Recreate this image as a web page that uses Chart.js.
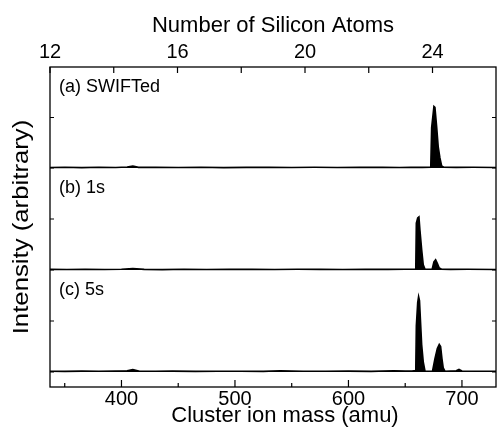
<!DOCTYPE html>
<html>
<head>
<meta charset="utf-8">
<script src="https://cdn.jsdelivr.net/npm/chart.js@4.4.1/dist/chart.umd.min.js"></script>
<style>
    html, body { margin: 0; padding: 0; background: #fff; }
    #wrap { width: 497px; height: 434px; }
</style>
</head>
<body>
<div id="wrap"><canvas id="spectra" width="497" height="434"></canvas></div>
<script>
// Data
const SI_MASS = 28.0855;
const massMin = 12 * SI_MASS;
const massMax = 730;

const massTicks = [350, 400, 450, 500, 550, 600, 650, 700];
const atomTicks = [12, 14, 16, 18, 20, 22, 24];
const intensityTicks = [0, 0.5];

const panelIds = ["ya", "yb", "yc"];
const panelLabels = ["(a) SWIFTed", "(b) 1s", "(c) 5s"];

const xTitle = "Cluster ion mass (amu)";
const yTitle = "Intensity (arbitrary)";

// (a) SWIFTed
const massA = [337, 350, 365, 380, 395, 405, 410, 415, 430, 450,
    470, 490, 510, 530, 550, 570, 590, 610, 630, 645,
    655, 665, 672.5, 673.3, 675.3, 676.2, 677.7, 679.1, 680.6, 682.1,
    684, 695, 710, 730];
const intensityA = [0.005, 0.008, 0.004, 0.007, 0.005, 0.01, 0.02, 0.006, 0.008, 0.005,
    0.007, 0.004, 0.006, 0.008, 0.005, 0.007, 0.005, 0.008, 0.006, 0.005,
    0.007, 0.006, 0.008, 0.40, 0.61, 0.60, 0.41, 0.21, 0.10, 0.02,
    0.008, 0.006, 0.007, 0.005];

// (b) 1s
const massB = [337, 352, 368, 385, 400, 410, 420, 436, 455, 475,
    495, 515, 535, 555, 575, 595, 615, 635, 650, 657,
    659.3, 659.8, 661.0, 662.1, 663.0, 664.5, 665.9, 667.4, 669, 672,
    673.8, 675.3, 676.8, 678.3, 680.0, 682.1, 690, 705, 730];
const intensityB = [0.006, 0.005, 0.008, 0.005, 0.007, 0.015, 0.006, 0.004, 0.007, 0.005,
    0.008, 0.006, 0.005, 0.007, 0.006, 0.005, 0.008, 0.006, 0.007, 0.008,
    0.01, 0.46, 0.51, 0.52, 0.39, 0.20, 0.05, 0.01, 0.008, 0.007,
    0.01, 0.08, 0.10, 0.065, 0.02, 0.008, 0.006, 0.007, 0.005];

// (c) 5s
const massC = [337, 350, 365, 380, 395, 405, 410, 416, 430, 445,
    465, 485, 505, 525, 540, 560, 580, 600, 620, 640,
    650, 656, 659.3, 659.8, 661.0, 661.8, 662.6, 663.3, 664.5, 665.9,
    667.4, 670, 674.1, 676.2, 678.3, 680.0, 681.2, 682.4, 683.5, 685.0,
    690, 695, 697.4, 700, 712, 730];
const intensityC = [0.008, 0.006, 0.009, 0.007, 0.01, 0.012, 0.025, 0.008, 0.007, 0.009,
    0.006, 0.008, 0.007, 0.006, 0.012, 0.008, 0.007, 0.009, 0.006, 0.012,
    0.01, 0.01, 0.015, 0.45, 0.68, 0.74, 0.70, 0.54, 0.27, 0.10,
    0.01, 0.008, 0.01, 0.13, 0.23, 0.27, 0.25, 0.13, 0.04, 0.008,
    0.01, 0.012, 0.025, 0.01, 0.008, 0.007];

// Style
const FONT = '"Liberation Sans", Arial, Helvetica, sans-serif';

// Function
const toPoints = (masses, values) => masses.map((m, i) => ({x: m, y: values[i]}));

const spectrumDataset = (label, masses, values, axisId) => ({
    type: "line",
    label: label,
    data: toPoints(masses, values),
    xAxisID: "x",
    yAxisID: axisId,
    borderColor: "#000",
    backgroundColor: "#000",
    borderWidth: 1.6,
    pointRadius: 0,
    tension: 0,
    fill: "origin",
    clip: {left: 0, right: 0, top: 0, bottom: 2}
});

// stacked scales are placed bottom-up, so (c) is defined first
const panelAxis = (weight, min) => ({
    type: "linear",
    position: "left",
    stack: "panels",
    stackWeight: weight,
    min: min,
    max: 1,
    grid: {display: false, drawTicks: false},
    border: {display: false},
    ticks: {display: false},
    afterBuildTicks: (s) => { s.ticks = intensityTicks.map(v => ({value: v})); },
    afterFit: (s) => { s.width = 0; }
});

const framePlugin = {
    id: "frame",
    afterDraw(chart) {
        const {ctx, chartArea: a, scales} = chart;
        ctx.save();
        ctx.strokeStyle = "#000";
        ctx.lineWidth = 1.3;
        ctx.strokeRect(a.left, a.top, a.right - a.left, a.bottom - a.top);

        ctx.lineWidth = 1.2;
        ctx.beginPath();
        scales.x.ticks.forEach(t => {
            const px = scales.x.getPixelForValue(t.value);
            const len = t.value % 100 === 0 ? 7 : 4;
            ctx.moveTo(px, a.bottom);
            ctx.lineTo(px, a.bottom - len);
        });
        scales.x2.ticks.forEach(t => {
            const px = scales.x2.getPixelForValue(t.value);
            ctx.moveTo(px, a.top);
            ctx.lineTo(px, a.top + 6);
        });
        panelIds.forEach(id => {
            const s = scales[id];
            s.ticks.forEach(t => {
                const py = s.getPixelForValue(t.value);
                ctx.moveTo(a.left, py);
                ctx.lineTo(a.left + 4, py);
                ctx.moveTo(a.right, py);
                ctx.lineTo(a.right - 4, py);
            });
        });
        ctx.stroke();

        ctx.fillStyle = "#000";
        ctx.font = "18px " + FONT;
        ctx.textBaseline = "alphabetic";
        ctx.textAlign = "left";
        panelIds.forEach((id, i) => {
            ctx.fillText(panelLabels[i], a.left + 9, scales[id].top + 25);
        });

        // x title sits a little right of centre in the original
        ctx.font = "22px " + FONT;
        ctx.textAlign = "center";
        ctx.fillText(xTitle, 285, 422);

        ctx.translate(28, (a.top + a.bottom) / 2);
        ctx.rotate(-Math.PI / 2);
        ctx.scale(1.17, 1);
        ctx.fillText(yTitle, 0, 0);
        ctx.restore();
    }
};

// Init
let spectraElement = document.getElementById("spectra");
new Chart(spectraElement, {
    data: {
        datasets: [
            spectrumDataset("SWIFTed", massA, intensityA, "ya"),
            spectrumDataset("1s", massB, intensityB, "yb"),
            spectrumDataset("5s", massC, intensityC, "yc")
        ]
    },
    options: {
        responsive: false,
        animation: false,
        devicePixelRatio: 1,
        layout: {padding: {left: 50, right: 1, top: 0, bottom: 0}},
        plugins: {legend: {display: false}, tooltip: {enabled: false}},
        scales: {
            x: {
                type: "linear",
                position: "bottom",
                min: massMin,
                max: massMax,
                grid: {display: false, drawTicks: false},
                border: {display: false},
                afterBuildTicks: (s) => { s.ticks = massTicks.map(v => ({value: v})); },
                afterFit: (s) => { s.height = 47; },
                ticks: {
                    autoSkip: false,
                    maxRotation: 0,
                    padding: 0,
                    color: "#000",
                    font: {family: FONT, size: 20},
                    callback: (v) => v % 100 === 0 ? String(v) : ""
                }
            },
            x2: {
                type: "linear",
                position: "top",
                min: massMin / SI_MASS,
                max: massMax / SI_MASS,
                grid: {display: false, drawTicks: false},
                border: {display: false},
                afterBuildTicks: (s) => { s.ticks = atomTicks.map(v => ({value: v})); },
                afterFit: (s) => { s.height = 67; },
                ticks: {
                    autoSkip: false,
                    maxRotation: 0,
                    padding: 3,
                    color: "#000",
                    font: {family: FONT, size: 20},
                    callback: (v) => v % 4 === 0 ? String(v) : ""
                },
                title: {
                    display: true,
                    text: "Number of Silicon Atoms",
                    color: "#000",
                    font: {family: FONT, size: 22},
                    padding: {top: 13, bottom: 0}
                }
            },
            yc: panelAxis(117, -0.147),
            yb: panelAxis(102, 0),
            ya: panelAxis(101, 0)
        }
    },
    plugins: [framePlugin]
});
</script>
</body>
</html>
